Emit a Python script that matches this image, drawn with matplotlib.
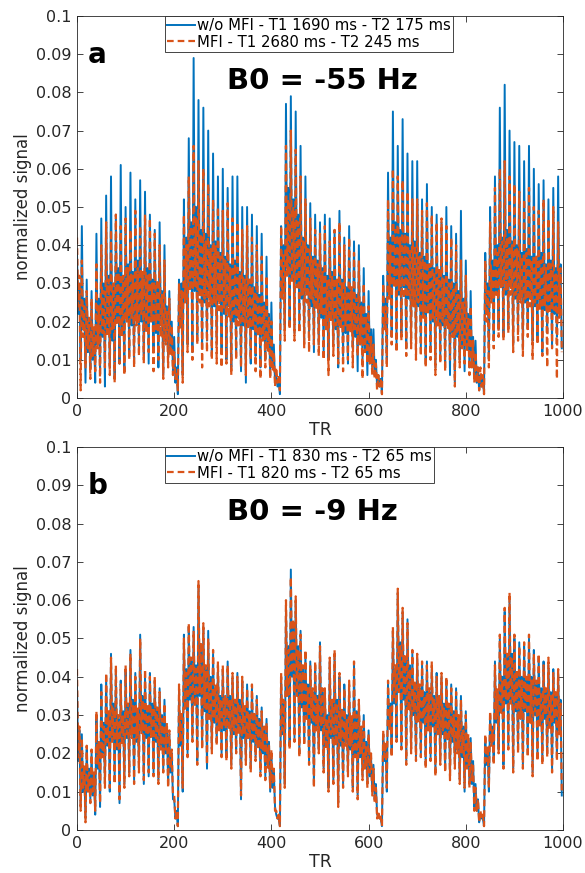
import numpy as np
import matplotlib.pyplot as plt

plt.rcParams['font.family'] = ['DejaVu Sans']

# signal, four samples per 10 TR:
# peak at TR t, core low at t+2.5, core high at t+5, trough at t+7.5
tr_start = np.arange(0, 1000, 10)

# ---------------- panel a (B0 = -55 Hz) ----------------
a_nomfi_peak = [
    0.038, 0.045, 0.031, 0.028, 0.043, 0.047, 0.053, 0.058, 0.048, 0.061,
    0.050, 0.059, 0.052, 0.057, 0.054, 0.048, 0.044, 0.046, 0.040, 0.028,
    0.016, 0.031, 0.052, 0.068, 0.089, 0.078, 0.076, 0.070, 0.064, 0.058,
    0.060, 0.055, 0.058, 0.058, 0.050, 0.050, 0.048, 0.045, 0.043, 0.037,
    0.025, 0.006, 0.045, 0.077, 0.079, 0.075, 0.066, 0.058, 0.051, 0.048,
    0.046, 0.048, 0.047, 0.044, 0.049, 0.042, 0.045, 0.041, 0.040, 0.034,
    0.028, 0.018, 0.006, 0.032, 0.059, 0.075, 0.066, 0.073, 0.064, 0.062,
    0.062, 0.052, 0.056, 0.050, 0.048, 0.046, 0.050, 0.045, 0.043, 0.049,
    0.036, 0.028, 0.015, 0.006, 0.038, 0.050, 0.058, 0.076, 0.082, 0.070,
    0.067, 0.066, 0.062, 0.066, 0.060, 0.056, 0.057, 0.052, 0.055, 0.058]
a_nomfi_core_lo = [
    0.022, 0.018, 0.012, 0.010, 0.014, 0.016, 0.018, 0.015, 0.020, 0.017,
    0.021, 0.019, 0.022, 0.020, 0.018, 0.021, 0.017, 0.019, 0.015, 0.012,
    0.004, 0.020, 0.026, 0.030, 0.028, 0.027, 0.025, 0.028, 0.024, 0.026,
    0.022, 0.024, 0.020, 0.021, 0.019, 0.020, 0.018, 0.017, 0.016, 0.013,
    0.008, 0.003, 0.028, 0.034, 0.032, 0.030, 0.026, 0.028, 0.024, 0.025,
    0.021, 0.019, 0.022, 0.018, 0.020, 0.017, 0.019, 0.016, 0.015, 0.013,
    0.010, 0.006, 0.003, 0.020, 0.028, 0.030, 0.027, 0.029, 0.026, 0.025,
    0.024, 0.022, 0.023, 0.020, 0.021, 0.019, 0.020, 0.017, 0.016, 0.014,
    0.013, 0.009, 0.004, 0.003, 0.022, 0.026, 0.028, 0.030, 0.027, 0.029,
    0.026, 0.027, 0.025, 0.026, 0.024, 0.025, 0.023, 0.024, 0.022, 0.023]
a_nomfi_core_hi = [
    0.030, 0.026, 0.020, 0.018, 0.026, 0.030, 0.032, 0.029, 0.034, 0.031,
    0.035, 0.033, 0.036, 0.032, 0.034, 0.031, 0.030, 0.028, 0.024, 0.020,
    0.008, 0.030, 0.042, 0.046, 0.050, 0.044, 0.043, 0.040, 0.041, 0.038,
    0.037, 0.035, 0.036, 0.033, 0.032, 0.030, 0.029, 0.027, 0.025, 0.022,
    0.014, 0.005, 0.040, 0.055, 0.052, 0.048, 0.042, 0.040, 0.037, 0.036,
    0.034, 0.032, 0.033, 0.030, 0.031, 0.029, 0.028, 0.027, 0.025, 0.022,
    0.018, 0.010, 0.005, 0.026, 0.042, 0.046, 0.044, 0.043, 0.040, 0.041,
    0.038, 0.037, 0.035, 0.034, 0.033, 0.032, 0.031, 0.030, 0.028, 0.026,
    0.022, 0.016, 0.008, 0.005, 0.030, 0.036, 0.040, 0.042, 0.044, 0.041,
    0.040, 0.038, 0.039, 0.037, 0.036, 0.038, 0.035, 0.036, 0.034, 0.035]
a_nomfi_trough = [
    0.010, 0.004, 0.008, 0.004, 0.006, 0.003, 0.008, 0.005, 0.009, 0.007,
    0.012, 0.010, 0.013, 0.011, 0.009, 0.012, 0.008, 0.006, 0.010, 0.007,
    0.001, 0.006, 0.014, 0.012, 0.016, 0.013, 0.015, 0.011, 0.014, 0.012,
    0.010, 0.008, 0.012, 0.007, 0.004, 0.009, 0.011, 0.008, 0.010, 0.006,
    0.004, 0.001, 0.018, 0.020, 0.017, 0.019, 0.015, 0.016, 0.012, 0.014,
    0.012, 0.010, 0.014, 0.008, 0.011, 0.009, 0.013, 0.007, 0.010, 0.006,
    0.008, 0.003, 0.001, 0.010, 0.016, 0.014, 0.017, 0.013, 0.015, 0.012,
    0.013, 0.010, 0.012, 0.008, 0.011, 0.009, 0.006, 0.004, 0.010, 0.007,
    0.008, 0.005, 0.002, 0.001, 0.010, 0.015, 0.018, 0.016, 0.019, 0.014,
    0.017, 0.013, 0.018, 0.015, 0.016, 0.012, 0.017, 0.014, 0.016, 0.013]

a_mfi_peak = [
    0.042, 0.036, 0.028, 0.026, 0.035, 0.040, 0.046, 0.044, 0.048, 0.045,
    0.047, 0.044, 0.049, 0.045, 0.048, 0.047, 0.043, 0.040, 0.036, 0.026,
    0.012, 0.030, 0.048, 0.058, 0.066, 0.062, 0.060, 0.056, 0.052, 0.050,
    0.049, 0.051, 0.047, 0.046, 0.044, 0.045, 0.042, 0.040, 0.037, 0.032,
    0.020, 0.008, 0.045, 0.066, 0.070, 0.065, 0.058, 0.052, 0.047, 0.044,
    0.043, 0.045, 0.041, 0.044, 0.046, 0.040, 0.042, 0.038, 0.036, 0.030,
    0.024, 0.014, 0.006, 0.030, 0.052, 0.060, 0.058, 0.057, 0.054, 0.052,
    0.052, 0.049, 0.051, 0.048, 0.046, 0.047, 0.045, 0.042, 0.040, 0.036,
    0.032, 0.024, 0.012, 0.008, 0.036, 0.046, 0.055, 0.060, 0.062, 0.058,
    0.056, 0.054, 0.052, 0.055, 0.050, 0.049, 0.052, 0.047, 0.050, 0.046]
a_mfi_core_lo = [
    0.024, 0.016, 0.013, 0.011, 0.013, 0.017, 0.016, 0.018, 0.019, 0.016,
    0.020, 0.021, 0.019, 0.022, 0.017, 0.020, 0.018, 0.016, 0.014, 0.011,
    0.005, 0.018, 0.025, 0.028, 0.029, 0.025, 0.026, 0.024, 0.025, 0.023,
    0.023, 0.021, 0.022, 0.019, 0.020, 0.018, 0.019, 0.016, 0.015, 0.012,
    0.007, 0.004, 0.026, 0.032, 0.030, 0.029, 0.027, 0.025, 0.026, 0.023,
    0.022, 0.018, 0.020, 0.019, 0.018, 0.019, 0.017, 0.018, 0.014, 0.012,
    0.009, 0.005, 0.003, 0.018, 0.026, 0.029, 0.028, 0.026, 0.027, 0.024,
    0.025, 0.021, 0.022, 0.021, 0.019, 0.020, 0.018, 0.016, 0.017, 0.013,
    0.012, 0.008, 0.004, 0.003, 0.020, 0.025, 0.027, 0.029, 0.028, 0.027,
    0.027, 0.025, 0.026, 0.024, 0.025, 0.023, 0.024, 0.022, 0.023, 0.021]
a_mfi_core_hi = [
    0.032, 0.024, 0.021, 0.019, 0.024, 0.028, 0.031, 0.030, 0.033, 0.032,
    0.034, 0.032, 0.034, 0.033, 0.032, 0.030, 0.031, 0.027, 0.023, 0.019,
    0.007, 0.028, 0.040, 0.045, 0.047, 0.043, 0.041, 0.039, 0.040, 0.037,
    0.036, 0.034, 0.035, 0.032, 0.031, 0.031, 0.028, 0.026, 0.024, 0.021,
    0.012, 0.006, 0.038, 0.052, 0.050, 0.046, 0.041, 0.039, 0.036, 0.035,
    0.033, 0.031, 0.032, 0.031, 0.030, 0.028, 0.029, 0.026, 0.024, 0.021,
    0.016, 0.009, 0.005, 0.024, 0.040, 0.044, 0.042, 0.043, 0.039, 0.040,
    0.037, 0.036, 0.035, 0.033, 0.034, 0.031, 0.030, 0.029, 0.027, 0.025,
    0.021, 0.015, 0.008, 0.006, 0.028, 0.034, 0.038, 0.041, 0.042, 0.040,
    0.039, 0.037, 0.038, 0.036, 0.037, 0.036, 0.034, 0.035, 0.033, 0.034]
a_mfi_trough = [
    0.002, 0.008, 0.005, 0.007, 0.004, 0.008, 0.006, 0.004, 0.009, 0.006,
    0.010, 0.008, 0.011, 0.009, 0.012, 0.007, 0.010, 0.005, 0.008, 0.006,
    0.002, 0.004, 0.012, 0.010, 0.014, 0.008, 0.012, 0.010, 0.009, 0.008,
    0.009, 0.006, 0.010, 0.008, 0.006, 0.010, 0.007, 0.005, 0.008, 0.005,
    0.003, 0.002, 0.015, 0.018, 0.015, 0.017, 0.013, 0.012, 0.014, 0.011,
    0.010, 0.006, 0.011, 0.009, 0.007, 0.010, 0.008, 0.011, 0.005, 0.009,
    0.006, 0.002, 0.001, 0.008, 0.014, 0.012, 0.015, 0.011, 0.013, 0.010,
    0.011, 0.008, 0.010, 0.006, 0.009, 0.007, 0.010, 0.003, 0.008, 0.009,
    0.006, 0.004, 0.002, 0.001, 0.008, 0.013, 0.016, 0.015, 0.017, 0.012,
    0.015, 0.011, 0.016, 0.010, 0.014, 0.011, 0.008, 0.013, 0.005, 0.012]

# ---------------- panel b (B0 = -9 Hz) ----------------
b_nomfi_peak = [
    0.038, 0.025, 0.021, 0.020, 0.030, 0.038, 0.040, 0.046, 0.041, 0.039,
    0.042, 0.047, 0.041, 0.051, 0.040, 0.041, 0.039, 0.037, 0.034, 0.025,
    0.008, 0.037, 0.051, 0.053, 0.053, 0.064, 0.053, 0.052, 0.046, 0.043,
    0.042, 0.044, 0.040, 0.041, 0.039, 0.038, 0.037, 0.035, 0.032, 0.029,
    0.020, 0.004, 0.040, 0.059, 0.068, 0.060, 0.052, 0.046, 0.044, 0.043,
    0.049, 0.036, 0.044, 0.046, 0.040, 0.038, 0.037, 0.043, 0.033, 0.030,
    0.026, 0.017, 0.004, 0.025, 0.038, 0.052, 0.062, 0.057, 0.055, 0.046,
    0.045, 0.043, 0.044, 0.042, 0.041, 0.040, 0.039, 0.038, 0.037, 0.035,
    0.031, 0.024, 0.012, 0.004, 0.024, 0.030, 0.044, 0.050, 0.057, 0.060,
    0.050, 0.049, 0.048, 0.050, 0.047, 0.045, 0.044, 0.043, 0.042, 0.041]
b_nomfi_core_lo = [
    0.018, 0.010, 0.011, 0.009, 0.016, 0.020, 0.022, 0.024, 0.021, 0.023,
    0.024, 0.025, 0.023, 0.026, 0.024, 0.025, 0.023, 0.022, 0.020, 0.015,
    0.003, 0.022, 0.032, 0.034, 0.033, 0.035, 0.031, 0.030, 0.028, 0.027,
    0.026, 0.027, 0.025, 0.026, 0.024, 0.025, 0.023, 0.022, 0.020, 0.017,
    0.011, 0.003, 0.025, 0.036, 0.040, 0.036, 0.032, 0.030, 0.028, 0.027,
    0.026, 0.022, 0.024, 0.023, 0.022, 0.023, 0.021, 0.020, 0.019, 0.017,
    0.014, 0.008, 0.003, 0.018, 0.027, 0.033, 0.037, 0.034, 0.032, 0.030,
    0.029, 0.028, 0.027, 0.027, 0.026, 0.025, 0.024, 0.023, 0.021, 0.019,
    0.017, 0.012, 0.005, 0.003, 0.017, 0.023, 0.028, 0.031, 0.033, 0.034,
    0.031, 0.030, 0.031, 0.029, 0.030, 0.028, 0.029, 0.027, 0.028, 0.026]
b_nomfi_core_hi = [
    0.026, 0.016, 0.016, 0.014, 0.022, 0.028, 0.030, 0.033, 0.029, 0.031,
    0.032, 0.034, 0.031, 0.035, 0.032, 0.033, 0.031, 0.030, 0.027, 0.020,
    0.005, 0.030, 0.042, 0.044, 0.043, 0.048, 0.042, 0.040, 0.037, 0.035,
    0.034, 0.035, 0.033, 0.034, 0.032, 0.031, 0.030, 0.029, 0.026, 0.023,
    0.015, 0.003, 0.033, 0.048, 0.054, 0.048, 0.042, 0.038, 0.036, 0.035,
    0.036, 0.030, 0.033, 0.034, 0.031, 0.030, 0.029, 0.031, 0.026, 0.023,
    0.019, 0.012, 0.003, 0.022, 0.033, 0.042, 0.049, 0.045, 0.043, 0.038,
    0.037, 0.036, 0.036, 0.035, 0.034, 0.033, 0.032, 0.031, 0.029, 0.027,
    0.024, 0.018, 0.008, 0.003, 0.021, 0.027, 0.036, 0.040, 0.045, 0.046,
    0.041, 0.040, 0.039, 0.040, 0.038, 0.037, 0.036, 0.036, 0.035, 0.034]
b_nomfi_trough = [
    0.006, 0.003, 0.008, 0.004, 0.006, 0.012, 0.010, 0.013, 0.007, 0.012,
    0.015, 0.013, 0.016, 0.012, 0.014, 0.015, 0.013, 0.016, 0.012, 0.008,
    0.001, 0.010, 0.020, 0.024, 0.018, 0.022, 0.016, 0.021, 0.023, 0.020,
    0.019, 0.017, 0.021, 0.008, 0.018, 0.016, 0.019, 0.015, 0.014, 0.010,
    0.006, 0.001, 0.012, 0.022, 0.024, 0.020, 0.023, 0.018, 0.012, 0.021,
    0.016, 0.011, 0.013, 0.007, 0.012, 0.015, 0.011, 0.009, 0.014, 0.012,
    0.010, 0.004, 0.001, 0.010, 0.020, 0.024, 0.022, 0.018, 0.021, 0.019,
    0.020, 0.017, 0.019, 0.015, 0.018, 0.016, 0.014, 0.017, 0.013, 0.010,
    0.012, 0.006, 0.002, 0.001, 0.010, 0.018, 0.021, 0.017, 0.022, 0.016,
    0.021, 0.017, 0.020, 0.015, 0.019, 0.018, 0.020, 0.016, 0.019, 0.009]

b_mfi_peak = [
    0.042, 0.024, 0.022, 0.021, 0.031, 0.036, 0.041, 0.045, 0.043, 0.038,
    0.043, 0.046, 0.040, 0.050, 0.042, 0.040, 0.040, 0.036, 0.033, 0.026,
    0.009, 0.038, 0.050, 0.054, 0.052, 0.065, 0.054, 0.050, 0.047, 0.044,
    0.043, 0.043, 0.041, 0.040, 0.040, 0.037, 0.038, 0.034, 0.031, 0.028,
    0.021, 0.005, 0.041, 0.060, 0.066, 0.061, 0.051, 0.047, 0.043, 0.044,
    0.048, 0.037, 0.045, 0.047, 0.041, 0.037, 0.039, 0.044, 0.034, 0.029,
    0.025, 0.016, 0.005, 0.026, 0.039, 0.053, 0.063, 0.058, 0.054, 0.047,
    0.046, 0.044, 0.043, 0.044, 0.040, 0.041, 0.040, 0.037, 0.036, 0.034,
    0.030, 0.023, 0.011, 0.005, 0.025, 0.031, 0.043, 0.051, 0.058, 0.062,
    0.051, 0.048, 0.049, 0.051, 0.046, 0.046, 0.043, 0.045, 0.041, 0.042]
b_mfi_core_lo = [
    0.019, 0.011, 0.010, 0.010, 0.017, 0.019, 0.023, 0.023, 0.022, 0.022,
    0.025, 0.024, 0.024, 0.025, 0.025, 0.024, 0.024, 0.021, 0.021, 0.016,
    0.003, 0.023, 0.031, 0.035, 0.032, 0.036, 0.032, 0.029, 0.029, 0.026,
    0.027, 0.026, 0.026, 0.025, 0.025, 0.024, 0.024, 0.021, 0.021, 0.016,
    0.012, 0.003, 0.026, 0.035, 0.041, 0.035, 0.033, 0.029, 0.029, 0.026,
    0.027, 0.021, 0.025, 0.022, 0.023, 0.022, 0.022, 0.019, 0.020, 0.016,
    0.015, 0.007, 0.003, 0.019, 0.026, 0.034, 0.036, 0.035, 0.031, 0.031,
    0.028, 0.029, 0.026, 0.028, 0.025, 0.026, 0.023, 0.024, 0.020, 0.020,
    0.016, 0.013, 0.005, 0.003, 0.018, 0.022, 0.029, 0.030, 0.034, 0.033,
    0.032, 0.029, 0.032, 0.028, 0.031, 0.027, 0.030, 0.026, 0.029, 0.025]
b_mfi_core_hi = [
    0.027, 0.017, 0.015, 0.015, 0.023, 0.027, 0.031, 0.032, 0.030, 0.030,
    0.033, 0.033, 0.032, 0.034, 0.033, 0.032, 0.032, 0.029, 0.028, 0.021,
    0.005, 0.031, 0.041, 0.045, 0.042, 0.049, 0.043, 0.039, 0.038, 0.034,
    0.035, 0.034, 0.034, 0.033, 0.033, 0.030, 0.031, 0.028, 0.027, 0.022,
    0.016, 0.004, 0.034, 0.047, 0.055, 0.047, 0.043, 0.037, 0.037, 0.034,
    0.037, 0.029, 0.034, 0.033, 0.032, 0.029, 0.030, 0.030, 0.027, 0.022,
    0.020, 0.011, 0.004, 0.023, 0.032, 0.043, 0.048, 0.046, 0.042, 0.039,
    0.038, 0.035, 0.037, 0.034, 0.035, 0.032, 0.033, 0.030, 0.030, 0.026,
    0.025, 0.017, 0.008, 0.004, 0.022, 0.026, 0.037, 0.039, 0.046, 0.045,
    0.042, 0.039, 0.040, 0.039, 0.039, 0.036, 0.037, 0.035, 0.036, 0.033]
b_mfi_trough = [
    0.005, 0.002, 0.007, 0.005, 0.007, 0.011, 0.011, 0.012, 0.008, 0.011,
    0.014, 0.012, 0.015, 0.013, 0.015, 0.014, 0.012, 0.015, 0.011, 0.009,
    0.001, 0.011, 0.019, 0.023, 0.017, 0.021, 0.017, 0.020, 0.022, 0.019,
    0.018, 0.016, 0.020, 0.009, 0.017, 0.015, 0.018, 0.014, 0.013, 0.011,
    0.005, 0.001, 0.011, 0.021, 0.023, 0.019, 0.022, 0.017, 0.011, 0.020,
    0.015, 0.010, 0.012, 0.006, 0.011, 0.014, 0.010, 0.008, 0.013, 0.011,
    0.009, 0.003, 0.001, 0.011, 0.019, 0.023, 0.021, 0.017, 0.020, 0.018,
    0.019, 0.016, 0.018, 0.014, 0.017, 0.015, 0.013, 0.016, 0.012, 0.011,
    0.011, 0.005, 0.002, 0.001, 0.011, 0.017, 0.020, 0.016, 0.021, 0.015,
    0.020, 0.016, 0.019, 0.014, 0.018, 0.017, 0.019, 0.015, 0.018, 0.010]

panels = [
    dict(tag='a', b0='B0 = -55 Hz', b0x=0.505,
         series=[((a_nomfi_peak, a_nomfi_core_lo, a_nomfi_core_hi, a_nomfi_trough),
                  'w/o MFI - T1 1690 ms - T2 175 ms'),
                 ((a_mfi_peak, a_mfi_core_lo, a_mfi_core_hi, a_mfi_trough),
                  'MFI - T1 2680 ms - T2 245 ms')]),
    dict(tag='b', b0='B0 = -9 Hz', b0x=0.485,
         series=[((b_nomfi_peak, b_nomfi_core_lo, b_nomfi_core_hi, b_nomfi_trough),
                  'w/o MFI - T1 830 ms - T2 65 ms'),
                 ((b_mfi_peak, b_mfi_core_lo, b_mfi_core_hi, b_mfi_trough),
                  'MFI - T1 820 ms - T2 65 ms')]),
]

blue = '#0072BD'
orange = '#D95319'
styles = [dict(color=blue, lw=1.4, ls='-'),
          dict(color=orange, lw=1.6, ls=(0, (3.0, 1.8)))]
offsets = [0.0, 2.5, 5.0, 7.5]


def in_tr_order(parts):
    # merge the four sample sets back into one series sorted by TR
    n = len(tr_start)
    tr = np.empty(4 * n)
    val = np.empty(4 * n)
    for k, (off, part) in enumerate(zip(offsets, parts)):
        tr[k::4] = tr_start + off
        val[k::4] = part
    return tr, val


fig = plt.figure(figsize=(5.85, 8.73), dpi=100)
boxes = [[0.1316, 0.5441, 0.8308, 0.4376], [0.1316, 0.0493, 0.8308, 0.4387]]

for box, p in zip(boxes, panels):
    ax = fig.add_axes(box)
    for (parts, label), st in zip(p['series'], styles):
        x, y = in_tr_order(parts)
        ax.plot(x, y, label=label, **st)

    ax.set_xlim(0, 1000)
    ax.set_ylim(0, 0.1)
    ax.set_xticks([0, 200, 400, 600, 800, 1000])
    ax.set_yticks(np.arange(0, 0.101, 0.01))
    ax.set_yticklabels(['0', '0.01', '0.02', '0.03', '0.04', '0.05',
                        '0.06', '0.07', '0.08', '0.09', '0.1'])
    ax.tick_params(direction='in', top=True, right=True, length=4,
                   width=0.6, color='#262626', labelsize=11.5,
                   labelcolor='#262626', pad=4)
    for s in ax.spines.values():
        s.set_color('#262626')
        s.set_linewidth(0.6)
    ax.set_xlabel('TR', fontsize=12.5, color='#262626', labelpad=2)
    ax.set_ylabel('normalized signal', fontsize=12, color='#262626', labelpad=3)

    ax.text(0.022, 0.897, p['tag'], transform=ax.transAxes, fontsize=20,
            fontweight='bold', ha='left', va='center')
    ax.text(p['b0x'], 0.83, p['b0'], transform=ax.transAxes, fontsize=21,
            fontweight='bold', ha='center', va='center')

    leg = ax.legend(loc='upper left', bbox_to_anchor=(0.181, 1.0),
                    fontsize=10.7, frameon=True, fancybox=False, framealpha=1,
                    edgecolor='#262626', borderaxespad=0, borderpad=0.15,
                    labelspacing=0.1, handlelength=1.9, handletextpad=0.1)
    leg.get_frame().set_linewidth(0.6)

fig.savefig('out.png', dpi=100)
